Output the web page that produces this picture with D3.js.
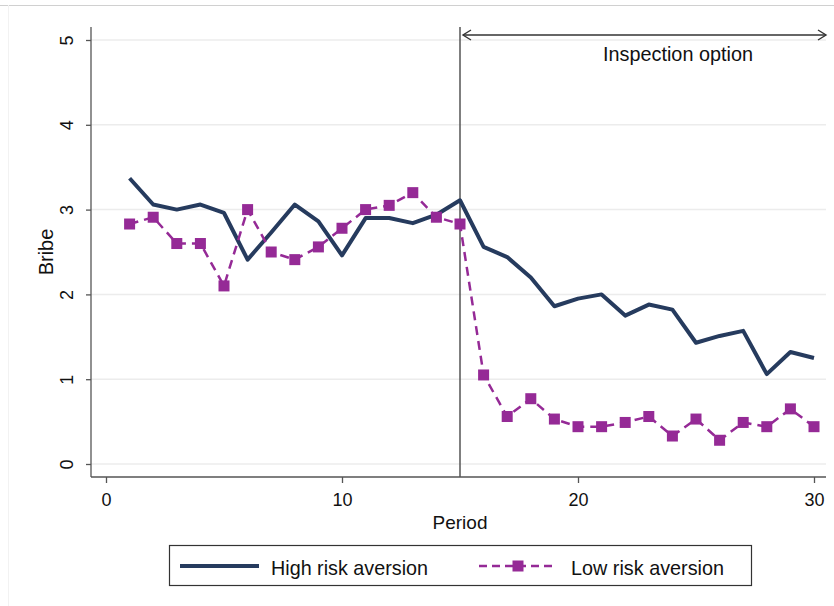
<!DOCTYPE html>
<html><head><meta charset="utf-8">
<script src="https://cdn.jsdelivr.net/npm/d3@7"></script>
<style>body{margin:0;background:#fff;} svg{display:block;font-family:"Liberation Sans",Arial,sans-serif;}</style>
</head><body><svg id="c" width="834" height="606"></svg>
<script>
const periods = d3.range(1, 31);
const highRisk = [3.37,3.06,3.00,3.06,2.96,2.41,2.73,3.06,2.86,2.46,2.90,2.90,2.84,2.94,3.11,2.56,2.44,2.20,1.86,1.95,2.00,1.75,1.88,1.82,1.43,1.51,1.57,1.06,1.32,1.25];
const lowRisk = [2.83,2.91,2.60,2.60,2.10,3.00,2.50,2.41,2.56,2.78,3.00,3.05,3.20,2.91,2.83,1.05,0.56,0.77,0.53,0.44,0.44,0.49,0.56,0.33,0.53,0.28,0.49,0.44,0.65,0.44];
const xTicks = [0,10,20,30];
const yTicks = [0,1,2,3,4,5];
const seriesNames = ["High risk aversion","Low risk aversion"];
const inspectionStart = 15;

const navy = "#263b5e", purple = "#952a96";
const svg = d3.select("#c");
const x = d3.scaleLinear().domain([0,30]).range([106,814]);
const y = d3.scaleLinear().domain([0,5]).range([464,40]);
const plotTop = 27, plotBottom = 477, plotLeft = 91, plotRight = 826;

// graph region outline
svg.append("line").attr("x1",0).attr("x2",834).attr("y1",5.5).attr("y2",5.5).attr("stroke","#d0d0d0");
svg.append("line").attr("x1",8.5).attr("x2",8.5).attr("y1",5).attr("y2",606).attr("stroke","#f2f2f2");

// gridlines
svg.append("g").selectAll("line").data(yTicks).join("line")
  .attr("x1",plotLeft).attr("x2",plotRight).attr("y1",d=>y(d)).attr("y2",d=>y(d))
  .attr("stroke","#ececec").attr("stroke-width",1.5);

// y axis
const yAxis = svg.append("g").attr("transform",`translate(${plotLeft},0)`)
  .call(d3.axisLeft(y).tickValues(yTicks).tickSize(5).tickFormat(d3.format("d")));
yAxis.select(".domain").attr("d",`M0,${plotTop}V${plotBottom}`).attr("stroke","#555").attr("stroke-width",1.3);
yAxis.selectAll(".tick line").attr("stroke","#555").attr("stroke-width",1.3);
yAxis.selectAll(".tick text").attr("font-size",18).attr("fill","#111")
  .attr("text-anchor","middle")
  .attr("transform","rotate(-90)").attr("x",0).attr("y",-18).attr("dy",0);

// x axis
const xAxis = svg.append("g").attr("transform",`translate(0,${plotBottom})`)
  .call(d3.axisBottom(x).tickValues(xTicks).tickSize(6).tickFormat(d3.format("d")));
xAxis.select(".domain").attr("d",`M${plotLeft},0H${plotRight}`).attr("stroke","#555").attr("stroke-width",1.3);
xAxis.selectAll(".tick line").attr("stroke","#555").attr("stroke-width",1.3);
xAxis.selectAll(".tick text").attr("font-size",18).attr("fill","#111").attr("y",16);

// axis titles
svg.append("text").attr("x",460).attr("y",529).attr("text-anchor","middle").attr("font-size",19).attr("fill","#111").text("Period");
svg.append("text").attr("transform","translate(53,252) rotate(-90)").attr("text-anchor","middle").attr("font-size",20).attr("fill","#111").text("Bribe");

// inspection line & arrow
svg.append("line").attr("x1",x(inspectionStart)).attr("x2",x(inspectionStart)).attr("y1",plotTop).attr("y2",plotBottom)
  .attr("stroke","#555").attr("stroke-width",1.5);
const ay = 35, ax1 = x(inspectionStart)+3, ax2 = plotRight;
svg.append("line").attr("x1",ax1).attr("x2",ax2).attr("y1",ay).attr("y2",ay).attr("stroke","#333").attr("stroke-width",1.4);
svg.append("path").attr("d",`M${ax1+8},${ay-5}L${ax1},${ay}L${ax1+8},${ay+5}`).attr("fill","none").attr("stroke","#333").attr("stroke-width",1.4);
svg.append("path").attr("d",`M${ax2-8},${ay-5}L${ax2},${ay}L${ax2-8},${ay+5}`).attr("fill","none").attr("stroke","#333").attr("stroke-width",1.4);
svg.append("text").attr("x",603).attr("y",61).attr("font-size",21).attr("fill","#111")
  .attr("textLength",150).attr("lengthAdjust","spacingAndGlyphs").text("Inspection option");

// series
const line = d3.line().x((d,i)=>x(periods[i])).y(d=>y(d));
svg.append("path").datum(highRisk).attr("d",line).attr("fill","none").attr("stroke",navy).attr("stroke-width",4).attr("stroke-linejoin","round");
svg.append("path").datum(lowRisk).attr("d",line).attr("fill","none").attr("stroke",purple).attr("stroke-width",2.5).attr("stroke-dasharray","9,6");
const ms = 11;
svg.append("g").selectAll("rect").data(lowRisk).join("rect")
  .attr("x",(d,i)=>x(periods[i])-ms/2).attr("y",d=>y(d)-ms/2).attr("width",ms).attr("height",ms).attr("fill",purple);

// legend
const lg = svg.append("g");
lg.append("rect").attr("x",169.5).attr("y",545.5).attr("width",582).attr("height",40).attr("fill","#fff").attr("stroke","#333").attr("stroke-width",1.2);
lg.append("line").attr("x1",180).attr("x2",259).attr("y1",566).attr("y2",566).attr("stroke",navy).attr("stroke-width",4);
lg.append("text").attr("x",271).attr("y",575).attr("font-size",21).attr("fill","#111")
  .attr("textLength",157).attr("lengthAdjust","spacingAndGlyphs").text(seriesNames[0]);
lg.append("line").attr("x1",479).attr("x2",557).attr("y1",566).attr("y2",566).attr("stroke",purple).attr("stroke-width",2.5).attr("stroke-dasharray","8,5");
lg.append("rect").attr("x",518-ms/2).attr("y",566-ms/2).attr("width",ms).attr("height",ms).attr("fill",purple);
lg.append("text").attr("x",571).attr("y",575).attr("font-size",21).attr("fill","#111")
  .attr("textLength",153).attr("lengthAdjust","spacingAndGlyphs").text(seriesNames[1]);
</script></body></html>
